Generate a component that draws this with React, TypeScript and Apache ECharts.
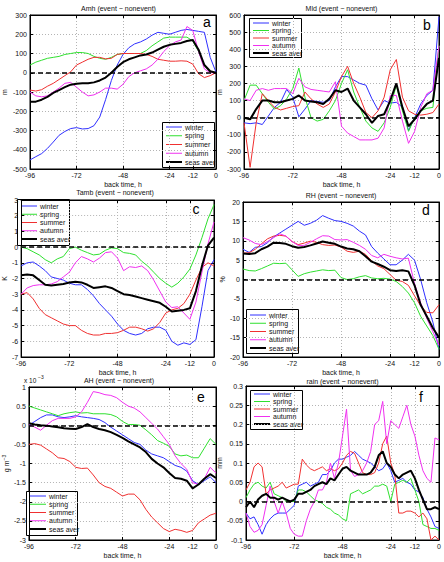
import React, { useEffect, useRef } from 'react';
import * as echarts from 'echarts';

const FONT = 'Liberation Sans, Arial, sans-serif';

const T3 = [-96,-93,-90,-87,-84,-81,-78,-75,-72,-69,-66,-63,-60,-57,-54,-51,-48,-45,-42,-39,-36,-33,-30,-27,-24,-21,-18,-15,-12,-9,-6,-3,0];
const T2 = [-96,-94,-92,-90,-88,-86,-84,-82,-80,-78,-76,-74,-72,-70,-68,-66,-64,-62,-60,-58,-56,-54,-52,-50,-48,-46,-44,-42,-40,-38,-36,-34,-32,-30,-28,-26,-24,-22,-20,-18,-16,-14,-12,-10,-8,-6,-4,-2,0];
const xTicks = [-96, -72, -48, -24, -12, 0];
const seasons = ['winter', 'spring', 'summer', 'autumn', 'seas aver'];
const colors = ['#2f2fff', '#2fe02f', '#f03030', '#f030f0', '#000000'];

// a: Amh
const amhWinter = [-453,-436,-420,-393,-360,-325,-305,-290,-285,-292,-290,-275,-230,-140,-40,40,95,130,150,160,175,195,210,205,200,210,220,225,220,215,210,80,3];
const amhSpring = [40,55,65,75,80,85,95,100,105,105,100,85,75,70,80,95,100,100,100,100,115,140,160,180,185,185,185,185,165,110,35,5,0];
const amhSummer = [-90,-95,-88,-70,-55,-35,-15,5,40,55,70,80,80,72,75,95,100,100,100,100,95,85,70,65,60,60,62,60,45,-5,-25,-15,0];
const amhAutumn = [-100,-120,-125,-120,-100,-80,-55,-50,-75,-100,-120,-115,-100,-80,-80,-85,-60,-20,0,10,20,40,70,110,140,160,170,240,220,110,20,0,0];
const amhAver = [-150,-150,-140,-125,-105,-90,-75,-62,-57,-55,-55,-50,-40,-25,0,30,55,70,80,90,95,105,120,135,145,150,155,165,170,120,40,8,0];

// b: Mld
const mldWinter = [-30,-35,-30,-40,10,60,90,165,120,5,50,100,95,90,100,180,240,240,220,200,190,110,45,100,85,90,60,-75,0,80,130,160,590];
const mldSpring = [100,190,190,140,90,50,70,110,170,290,120,0,-20,-10,40,100,200,280,150,60,-20,-60,-80,-30,60,190,40,-80,0,40,55,60,420];
const mldSummer = [-30,-290,-30,140,100,60,45,55,65,70,150,110,80,60,80,150,240,300,200,120,30,0,40,120,280,340,120,40,20,15,20,30,80];
const mldAutumn = [110,100,160,170,160,170,170,170,140,230,180,165,160,155,150,210,-50,-90,-110,-130,-130,-130,-120,-60,130,130,-20,-150,-80,60,140,160,420];
const mldAver = [0,-10,50,100,100,90,90,100,110,130,100,95,90,80,110,160,150,170,100,60,20,-30,10,20,100,200,60,-50,-10,40,80,100,350];

// c: Tamb
const tambWinter = [-1.2,-1.0,-0.95,-1.2,-1.5,-1.9,-2.0,-2.1,-2.3,-2.4,-2.4,-2.7,-3.1,-3.6,-4.0,-4.4,-4.9,-5.3,-5.5,-5.6,-5.5,-5.2,-5.1,-5.1,-5.3,-6.0,-6.25,-6.1,-6.2,-5.9,-3.8,-1.5,-0.8];
const tambSpring = [0,-0.1,-0.3,-0.5,-0.8,-1.0,-0.75,-0.6,-0.1,0,-0.2,-0.35,-0.5,-0.45,-0.2,-0.05,-0.1,-0.35,-0.4,-0.5,-0.9,-1.2,-1.6,-2.0,-2.3,-2.55,-2.3,-1.9,-1.4,-0.5,0.6,1.8,2.7];
const tambSummer = [-3.0,-2.9,-3.3,-3.9,-4.3,-4.5,-4.7,-4.9,-5.0,-5.0,-5.3,-5.5,-5.6,-5.6,-5.5,-5.5,-5.45,-5.3,-5.1,-5.1,-5.2,-5.35,-5.2,-4.8,-4.2,-4.0,-3.9,-3.6,-3.0,-2.1,-1.3,-1.0,-1.2];
const tambAutumn = [-3.0,-2.6,-2.45,-2.4,-2.4,-2.35,-2.2,-1.9,-1.6,-1.0,-0.6,-0.75,-0.95,-0.7,-0.35,-0.3,-0.7,-1.5,-1.25,-1.3,-1.2,-1.5,-2.1,-2.8,-3.5,-3.85,-3.8,-4.2,-4.6,-3.5,-1.6,0.2,1.6];
const tambAver = [-1.8,-1.75,-1.8,-2.1,-2.4,-2.45,-2.4,-2.35,-2.25,-2.2,-2.25,-2.4,-2.6,-2.55,-2.5,-2.6,-2.8,-3.0,-3.05,-3.15,-3.25,-3.35,-3.45,-3.55,-3.8,-4.1,-4.05,-4.0,-3.9,-2.8,-1.2,0.1,0.6];

// d: RH
const rhWinter = [7.8,7.0,8.3,8.5,9.5,11,12,13,14,15,14,14.5,15.3,16.5,15.8,15.2,15,14.5,13.8,12.5,11.5,8.5,6.8,5.3,3.8,3.8,5.0,6.5,5,0,-6,-11,-18];
const rhSpring = [2.7,2.3,2.2,2.8,3.5,4.2,4.1,4.2,2.5,0.8,1.5,1.9,2.2,2.5,2.3,2.4,0.5,0,0.2,0.7,1.0,0.4,0.2,0.3,0.1,-0.5,-1.8,-3.5,-6,-9.5,-12,-14.5,-18];
const rhSummer = [6.8,6.9,7.8,9.2,10.5,11.2,11.4,11.2,9.8,9.0,9.4,9.9,9.6,9.0,8.8,8.9,8.4,7.3,7.0,7.3,6.5,4.8,3.5,2.8,1.3,-0.2,-0.5,-1.5,-4.2,-6.8,-8.5,-8.6,-6.5];
const rhAutumn = [10.8,10.2,9.3,9.0,9.8,10.8,11.8,11.2,9.8,8.8,8.8,9.6,10.5,11.3,11.2,10.3,10.2,10.3,9.6,8.8,7.8,6.2,5.6,6.5,6.0,5.6,5.3,5.5,-1,-6,-10,-13.5,-17];
const rhAver = [6.7,6.6,6.8,7.8,8.5,9.5,9.4,9.2,8.6,8.2,8.4,8.8,9.3,9.8,9.5,9.2,8.5,8.0,7.8,7.3,6.0,4.6,4.0,3.3,2.4,2.2,2.4,2.1,-1.5,-6.5,-9.5,-12.5,-15];

// e: AH (x 10^-3)
const ahWinter = [0,0.1,0.2,0.27,0.27,0.22,0.2,0.22,0.25,0.22,0.2,0.18,0.15,0.07,-0.05,-0.15,-0.25,-0.35,-0.45,-0.5,-0.65,-0.75,-0.8,-0.85,-0.95,-1.05,-1.1,-1.2,-1.45,-1.55,-1.45,-1.35,-1.5];
const ahSpring = [0.5,0.45,0.4,0.35,0.3,0.25,0.3,0.33,0.35,0.32,0.33,0.3,0.3,0.3,0.28,0.22,0.1,0.02,0.02,0.0,-0.12,-0.25,-0.4,-0.47,-0.55,-0.75,-0.8,-0.78,-0.85,-0.85,-0.6,-0.35,-0.5];
const ahSummer = [-0.5,-0.48,-0.52,-0.62,-0.72,-0.85,-0.87,-0.95,-1.1,-1.13,-1.12,-1.3,-1.5,-1.6,-1.65,-1.75,-1.85,-1.8,-1.8,-1.95,-2.2,-2.4,-2.55,-2.7,-2.78,-2.72,-2.75,-2.8,-2.75,-2.55,-2.45,-2.35,-2.3];
const ahAutumn = [0.02,-0.05,-0.13,0.0,0.12,0.18,0.18,0.18,0.22,0.35,0.6,0.88,0.85,0.8,0.78,0.72,0.6,0.5,0.45,0.35,0.2,0.05,-0.1,-0.3,-0.5,-0.8,-1.0,-1.15,-1.5,-1.55,-1.4,-1.1,-1.25];
const ahAver = [0.05,0.02,0.0,-0.01,-0.03,-0.05,-0.08,-0.09,-0.1,-0.05,0.03,-0.05,-0.1,-0.13,-0.18,-0.25,-0.33,-0.42,-0.5,-0.58,-0.7,-0.88,-1.0,-1.1,-1.25,-1.38,-1.4,-1.45,-1.65,-1.55,-1.4,-1.28,-1.38];

// f: rain
const rainWinter = [-0.03,-0.045,-0.04,-0.06,-0.085,-0.06,-0.045,-0.035,-0.03,-0.03,-0.03,-0.02,-0.01,0.04,0.045,0.05,0.04,0.045,0.05,0.07,0.07,0.08,0.1,0.11,0.11,0.115,0.12,0.13,0.12,0.11,0.105,0.1,0.09,0.08,0.085,0.1,0.08,0.05,0.055,0.06,0.05,0.045,0.03,0.025,0.01,-0.02,-0.04,-0.065,-0.07];
const rainSpring = [0.01,0.03,0.045,0.05,0.04,0.035,0.05,0.02,0.015,0.01,0.0,0.0,0.0,0.03,0.03,0.025,0.015,0.005,0.0,-0.005,-0.015,-0.02,-0.03,-0.035,-0.045,-0.05,0.02,0.025,0.03,0.02,0.025,0.03,0.04,0.04,0.045,0.04,0.0,0.045,0.05,0.055,0.05,0.06,0.03,0.0,-0.06,-0.065,-0.07,-0.07,-0.075];
const rainSummer = [0.03,0.05,0.09,0.1,0.09,0.02,0.03,0.035,0.04,0.05,0.035,0.04,0.045,0.045,0.11,0.095,0.085,0.08,0.085,0.09,0.08,0.085,0.08,0.085,0.1,0.12,0.13,0.125,0.1,0.075,0.07,0.07,0.075,0.1,0.15,0.17,0.1,0.07,-0.03,-0.03,-0.025,-0.025,-0.03,-0.04,-0.03,-0.045,-0.1,-0.09,-0.1];
const rainAutumn = [-0.03,-0.065,-0.08,-0.075,-0.06,-0.01,0.04,0.0,-0.03,0.0,-0.03,-0.07,-0.085,-0.09,-0.09,-0.05,-0.02,0.0,0.03,0.03,0.05,0.1,0.06,0.1,0.17,0.24,0.08,0.065,0.07,0.08,0.1,0.13,0.2,0.21,0.26,0.15,0.21,0.2,0.19,0.22,0.25,0.2,0.17,0.12,0.08,0.06,0.05,0.165,0.16];
const rainAver = [-0.015,0.0,-0.015,0.005,0.015,0.02,0.01,0.01,0.005,0.01,0.005,0.0,0.005,0.02,0.02,0.025,0.03,0.04,0.045,0.05,0.045,0.06,0.055,0.07,0.085,0.09,0.08,0.075,0.07,0.07,0.07,0.075,0.09,0.12,0.13,0.1,0.09,0.07,0.06,0.07,0.075,0.08,0.06,0.03,0.005,-0.02,-0.02,-0.015,-0.02];

const panels = [
  { title: 'Amh (event \u2212 nonevent)', letter: 'a', yName: 'm', T: T3,
    data: [amhWinter, amhSpring, amhSummer, amhAutumn, amhAver],
    y: { min: -500, max: 300, interval: 100 },
    grid: { left: 21, top: 15, width: 195, height: 154 },
    legend: { x: 162, y: 122, w: 52, h: 45, y0: 5, dy: 8.75 },
    letterPos: [207, 22], titleY: 8, nameGap: 22 },
  { title: 'Mld (event \u2212 nonevent)', letter: 'b', yName: 'm', T: T3,
    data: [mldWinter, mldSpring, mldSummer, mldAutumn, mldAver],
    y: { min: -300, max: 600, interval: 100 },
    grid: { left: 244, top: 15, width: 195, height: 154 },
    legend: { x: 249, y: 18, w: 52, h: 39, y0: 5, dy: 7.5 },
    letterPos: [427, 25], titleY: 8, nameGap: 16 },
  { title: 'Tamb (event \u2212 nonevent)', letter: 'c', yName: 'K', T: T3,
    data: [tambWinter, tambSpring, tambSummer, tambAutumn, tambAver],
    y: { min: -7, max: 3, interval: 1 },
    grid: { left: 16, top: 200, width: 198, height: 157 },
    legend: { x: 17, y: 199, w: 52, h: 46, y0: 7, dy: 8.25 },
    letterPos: [196, 209], titleY: 192, nameGap: 11 },
  { title: 'RH (event \u2212 nonevent)', letter: 'd', yName: '%', T: T3,
    data: [rhWinter, rhSpring, rhSummer, rhAutumn, rhAver],
    y: { min: -20, max: 20, interval: 5 },
    grid: { left: 243, top: 202, width: 196, height: 155 },
    legend: { x: 246, y: 309, w: 52, h: 44, y0: 6, dy: 8.25 },
    letterPos: [426, 210], titleY: 195, nameGap: 15 },
  { title: 'AH (event \u2212 nonevent)', letter: 'e', yName: 'g m{sup|\u22123}', T: T3,
    data: [ahWinter, ahSpring, ahSummer, ahAutumn, ahAver],
    y: { min: -3, max: 1, interval: 0.5 },
    grid: { left: 22, top: 387, width: 194, height: 153 },
    legend: { x: 26, y: 491, w: 51, h: 44, y0: 5, dy: 8.25 },
    letterPos: [201, 397], titleY: 380, nameGap: 16 },
  { title: 'rain (event \u2212 nonevent)', letter: 'f', yName: 'mm', T: T2,
    data: [rainWinter, rainSpring, rainSummer, rainAutumn, rainAver],
    y: { min: -0.1, max: 0.3, interval: 0.05 },
    grid: { left: 246, top: 386, width: 193, height: 154 },
    legend: { x: 250, y: 390, w: 52, h: 39, y0: 4, dy: 7.5 },
    letterPos: [421, 397], titleY: 381, nameGap: 18 },
];

const txt = { fontFamily: FONT, fontSize: 7, color: '#111' };

function buildOption() {
  const grid: any[] = [];
  const xAxis: any[] = [];
  const yAxis: any[] = [];
  const series: any[] = [];
  const graphic: any[] = [];

  panels.forEach((p, i) => {
    grid.push({ ...p.grid, show: true, borderColor: '#000', borderWidth: 1, backgroundColor: 'transparent', containLabel: false });
    xAxis.push({
      type: 'value', gridIndex: i, min: -96, max: 0, position: 'bottom',
      axisLine: { show: true, onZero: false, lineStyle: { color: '#000', width: 1 } },
      axisTick: { show: true, inside: true, length: 3, customValues: xTicks, lineStyle: { color: '#000' } },
      axisLabel: { ...txt, margin: 3, customValues: xTicks, formatter: (v: number) => String(v) },
      splitLine: { show: true, lineStyle: { color: '#b4b4b4', type: [1, 2], width: 1 } },
      name: 'back time, h', nameLocation: 'middle', nameGap: 12, nameTextStyle: { ...txt },
    });
    xAxis.push({
      type: 'value', gridIndex: i, min: -96, max: 0, position: 'top',
      axisLine: { show: true, onZero: false, lineStyle: { color: '#000', width: 1 } },
      axisTick: { show: true, inside: true, length: 3, customValues: xTicks, lineStyle: { color: '#000' } },
      axisLabel: { show: false }, splitLine: { show: false },
    });
    yAxis.push({
      type: 'value', gridIndex: i, min: p.y.min, max: p.y.max, interval: p.y.interval, position: 'left',
      axisLine: { show: true, onZero: false, lineStyle: { color: '#000', width: 1 } },
      axisTick: { show: true, inside: true, length: 3, lineStyle: { color: '#000' } },
      axisLabel: { ...txt, margin: 3, formatter: (v: number) => String(+v.toFixed(3)) },
      splitLine: { show: true, lineStyle: { color: '#b4b4b4', type: [1, 2], width: 1 } },
      name: p.yName, nameLocation: 'middle', nameGap: p.nameGap, nameRotate: 90,
      nameTextStyle: { ...txt, rich: { sup: { fontFamily: FONT, fontSize: 5, color: '#111', padding: [0, 0, 6, 0] } } },
    });
    yAxis.push({
      type: 'value', gridIndex: i, min: p.y.min, max: p.y.max, interval: p.y.interval, position: 'right',
      axisLine: { show: true, onZero: false, lineStyle: { color: '#000', width: 1 } },
      axisTick: { show: true, inside: true, length: 3, lineStyle: { color: '#000' } },
      axisLabel: { show: false }, splitLine: { show: false },
    });
    p.data.forEach((vals, j) => {
      const s: any = {
        type: 'line', name: seasons[j], xAxisIndex: 2 * i, yAxisIndex: 2 * i,
        data: vals.map((v, k) => [p.T[k], v]),
        showSymbol: false, symbol: 'none', smooth: false,
        lineStyle: { width: j === 4 ? 2 : 1, color: colors[j] },
        itemStyle: { color: colors[j] },
        z: j === 4 ? 4 : 3, silent: true,
      };
      if (j === 4) {
        s.markLine = {
          silent: true, symbol: ['none', 'none'], label: { show: false },
          lineStyle: { color: '#000', type: [5, 3], width: 1.5 },
          data: [{ yAxis: 0 }],
        };
      }
      series.push(s);
    });

    // legend box (drawn as graphic so that the line samples carry no symbol)
    const L = p.legend;
    const children: any[] = [
      { type: 'rect', shape: { x: L.x + 0.5, y: L.y + 0.5, width: L.w, height: L.h }, style: { fill: '#fff', stroke: '#000', lineWidth: 1 } },
    ];
    seasons.forEach((name, j) => {
      const yy = L.y + L.y0 + j * L.dy;
      children.push({ type: 'line', shape: { x1: L.x + 4, y1: yy, x2: L.x + 20, y2: yy }, style: { stroke: colors[j], lineWidth: j === 4 ? 2 : 1 } });
      children.push({ type: 'text', x: L.x + 23, y: yy, style: { text: name, fontFamily: FONT, fontSize: 7, fill: '#111', align: 'left', verticalAlign: 'middle' } });
    });
    graphic.push({ type: 'group', z: 100, children });

    const cx = p.grid.left + p.grid.width / 2;
    graphic.push({ type: 'text', x: cx, y: p.titleY, style: { text: p.title, fontFamily: FONT, fontSize: 7, fill: '#111', align: 'center', verticalAlign: 'middle' } });
    graphic.push({ type: 'text', x: p.letterPos[0], y: p.letterPos[1], z: 100, style: { text: p.letter, fontFamily: FONT, fontSize: 14, fill: '#000', align: 'center', verticalAlign: 'middle' } });
  });

  graphic.push({ type: 'text', x: 24, y: 380, style: { text: 'x 10', fontFamily: FONT, fontSize: 6.5, fill: '#111', align: 'left', verticalAlign: 'middle' } });
  graphic.push({ type: 'text', x: 38, y: 376.5, style: { text: '\u22123', fontFamily: FONT, fontSize: 5, fill: '#111', align: 'left', verticalAlign: 'middle' } });

  return {
    animation: false,
    backgroundColor: '#fff',
    textStyle: { fontFamily: FONT },
    grid, xAxis, yAxis, series, graphic,
  };
}

export default function App() {
  const ref = useRef<HTMLDivElement>(null);
  useEffect(() => {
    if (!ref.current) return;
    const chart = echarts.init(ref.current, undefined, { renderer: 'svg' });
    chart.setOption(buildOption() as any);
    return () => chart.dispose();
  }, []);
  return <div ref={ref} style={{ position: 'fixed', left: 0, top: 0, width: 444, height: 562 }} />;
}
